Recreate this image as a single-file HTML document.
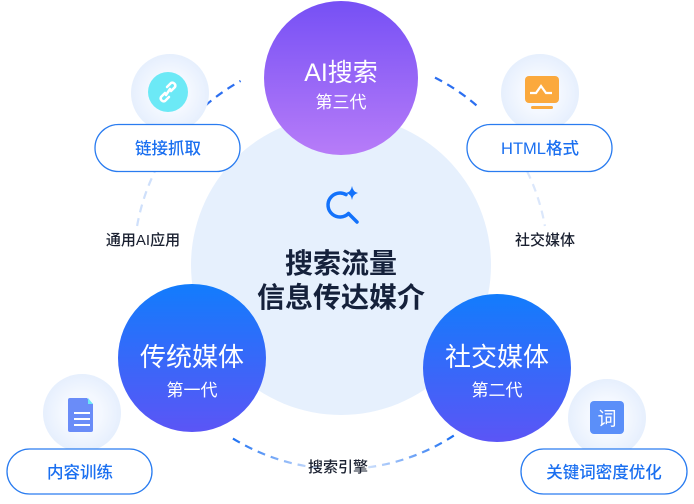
<!DOCTYPE html>
<html><head><meta charset="utf-8"><style>
html,body{margin:0;padding:0;background:#fff;width:694px;height:504px;overflow:hidden}
svg{display:block}
text{font-family:"Liberation Sans","Noto Sans CJK SC",sans-serif}
</style></head><body>
<svg width="694" height="504" viewBox="0 0 694 504" xmlns="http://www.w3.org/2000/svg">
<defs>
<linearGradient id="gp" x1="0" y1="0" x2="0" y2="1"><stop offset="0" stop-color="#7650f5"/><stop offset="1" stop-color="#b77cf8"/></linearGradient>
<linearGradient id="gb" x1="0" y1="0" x2="0" y2="1"><stop offset="0" stop-color="#127cfc"/><stop offset="1" stop-color="#5b55f6"/></linearGradient>
<radialGradient id="gs"><stop offset="0.5" stop-color="#f4f8ff"/><stop offset="1" stop-color="#e6effd"/></radialGradient>
<linearGradient id="fl" x1="0" y1="0" x2="1" y2="0"><stop offset="0" stop-color="#1b6ff2"/><stop offset="1" stop-color="#d8e6fc"/></linearGradient>
<linearGradient id="fr" x1="0" y1="0" x2="1" y2="0"><stop offset="0" stop-color="#d8e6fc"/><stop offset="1" stop-color="#1b6ff2"/></linearGradient>
</defs>
<circle cx="341" cy="265" r="150" fill="#e6f0fd"/>
<g fill="none" stroke-width="2.2" stroke-dasharray="8 6">
<path d="M205.2,105.7 A207,207 0 0 1 240.6,80.9" stroke="#2c6ff0"/>
<path d="M137.1,226 A207,207 0 0 1 154.9,171.3" stroke="#cfe0fb"/>
<path d="M435,77.6 A207,207 0 0 1 476.8,105.7" stroke="#2c6ff0"/>
<path d="M527.1,171.3 A207,207 0 0 1 544.9,226" stroke="#dbe7fb"/>
<path d="M453.8,435.6 A207,207 0 0 1 362.7,468" stroke="url(#fr)"/>
<path d="M319.3,468 A207,207 0 0 1 231.3,437.5" stroke="url(#fl)"/>
</g>
<circle cx="341" cy="78" r="77" fill="url(#gp)"/>
<circle cx="192" cy="358" r="74" fill="url(#gb)"/>
<circle cx="497" cy="368" r="74" fill="url(#gb)"/>
<g fill="#fff" text-anchor="middle">
<text x="341" y="81" font-size="25">AI搜索</text>
<text x="341" y="108" font-size="17">第三代</text>
<text x="192" y="366" font-size="26">传统媒体</text>
<text x="192" y="396" font-size="17">第一代</text>
<text x="497" y="366" font-size="26">社交媒体</text>
<text x="497" y="396" font-size="17">第二代</text>
</g>
<g fill="none" stroke="#1372fb" stroke-width="3.5" stroke-linecap="round">
<path d="M346,194.6 A12,12 0 1 0 348.5,213.5"/><line x1="349" y1="214" x2="357" y2="222"/>
</g>
<path d="M352,186 Q353,192 358,193 Q353,194 352,200 Q351,194 346,193 Q351,192 352,186Z" fill="#1372fb"/>
<text x="341" y="273" text-anchor="middle" font-size="28" font-weight="bold" fill="#15213b">搜索流量</text>
<text x="341" y="307" text-anchor="middle" font-size="28" font-weight="bold" fill="#15213b">信息传达媒介</text>
<circle cx="170" cy="93" r="39" fill="url(#gs)"/>
<circle cx="168" cy="92" r="20" fill="#6ce9f6"/>
<g fill="none" stroke="#fff" stroke-width="2.5" stroke-linecap="round"><path d="M165,93 l-4,4 a3,3 0 0 0 4,4 l4,-4"/><path d="M171,91 l4,-4 a3,3 0 0 0 -4,-4 l-4,4"/><line x1="166" y1="95" x2="170" y2="89"/></g>
<circle cx="540" cy="93" r="39" fill="url(#gs)"/>
<rect x="525" y="76" width="34" height="27" rx="4" fill="#fba93d"/>
<rect x="531" y="106" width="22" height="3" rx="1.5" fill="#fba93d"/>
<path d="M530,93 h6 l5,-7 l5,7 h6" fill="none" stroke="#fff" stroke-width="2.2"/>
<circle cx="82" cy="413" r="39" fill="url(#gs)"/>
<path d="M70,398 h17 l6,6 v26 a2,2 0 0 1 -2,2 h-21 a2,2 0 0 1 -2,-2 v-30 a2,2 0 0 1 2,-2z" fill="#6a8cf8"/>
<path d="M88,398 l5,6 h-5z" fill="#6ce9f6"/>
<g stroke="#fff" stroke-width="2"><line x1="74" y1="413" x2="90" y2="413"/><line x1="74" y1="419" x2="90" y2="419"/><line x1="74" y1="425" x2="90" y2="425"/></g>
<circle cx="607" cy="418" r="39" fill="url(#gs)"/>
<rect x="590" y="401" width="34" height="33" rx="4" fill="#5b8ff9"/>
<text x="607" y="425" text-anchor="middle" font-size="19" fill="#fff">词</text>
<g fill="#fff" stroke="#2a7cf0" stroke-width="1.3">
<rect x="95" y="124.5" width="145" height="47" rx="23.5"/>
<rect x="467" y="124.5" width="145" height="47" rx="23.5"/>
<rect x="7" y="449" width="145" height="45" rx="22.5"/>
<rect x="521" y="449" width="166" height="45" rx="22.5"/>
</g>
<g fill="#1a6ff0" text-anchor="middle" font-size="16.5" font-weight="500">
<text x="168" y="154">链接抓取</text>
<text x="540" y="154">HTML格式</text>
<text x="80" y="478">内容训练</text>
<text x="604" y="478">关键词密度优化</text>
</g>
<g fill="#1a2030" text-anchor="middle" font-size="15" font-weight="500">
<text x="143" y="245">通用AI应用</text>
<text x="545" y="245">社交媒体</text>
<text x="338" y="472">搜索引擎</text>
</g>
</svg>
</body></html>
